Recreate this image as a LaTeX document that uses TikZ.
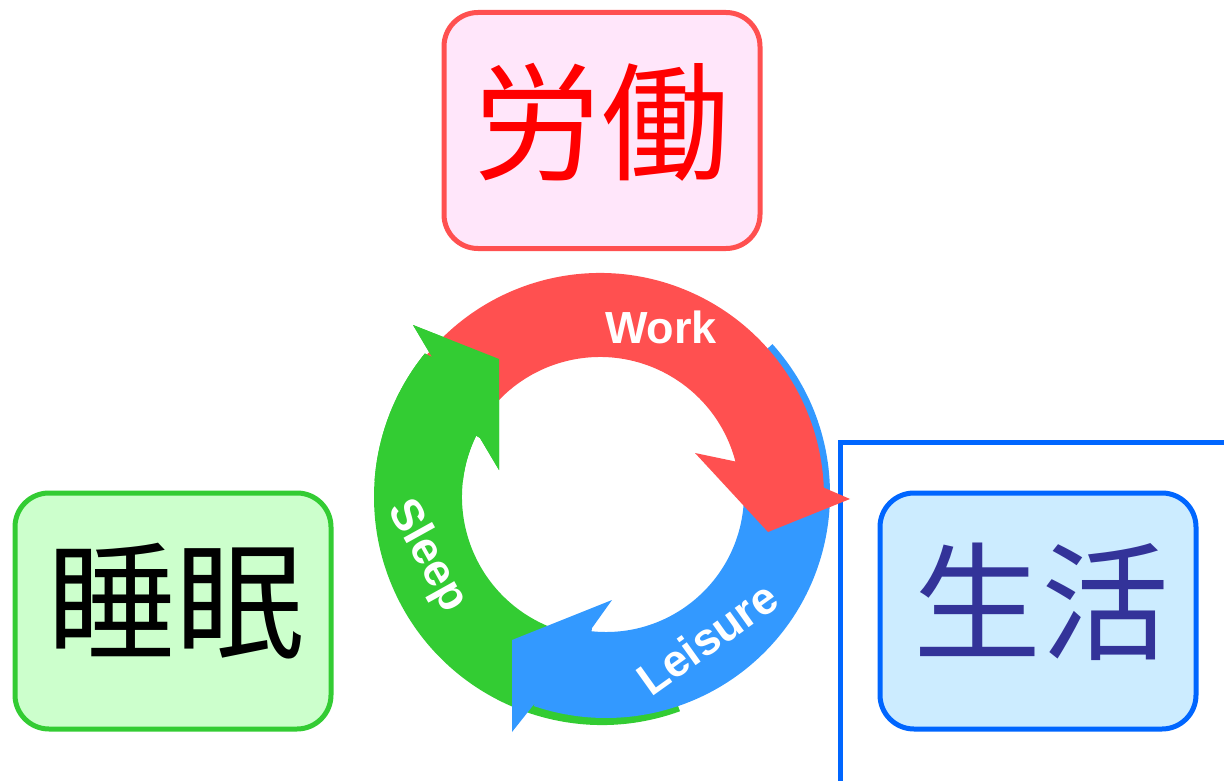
\documentclass[tikz,border=0pt]{standalone}
\usepackage{fontspec}
\setmainfont{Liberation Sans}
\newfontfamily\cjk{Noto Sans CJK JP}
\usetikzlibrary{calc}
\definecolor{redA}{RGB}{255,80,80}
\definecolor{greenA}{RGB}{51,204,51}
\definecolor{blueA}{RGB}{51,153,255}
\definecolor{pinkfill}{RGB}{255,230,250}
\definecolor{greenfill}{RGB}{204,255,204}
\definecolor{bluefill}{RGB}{204,236,255}
\definecolor{blueline}{RGB}{0,102,255}
\definecolor{navytext}{RGB}{51,51,153}
\begin{document}
\begin{tikzpicture}[x=1pt,y=-1pt,
  roundbox/.style={draw, line width=5pt, rounded corners=34pt, minimum width=316pt, minimum height=236pt, inner sep=0pt},
  cjklabel/.style={font=\cjk\fontsize{128}{128}\selectfont, anchor=base, inner sep=0pt},
  arrowlabel/.style={text=white, font=\bfseries\fontsize{45}{45}\selectfont, inner sep=0pt},
  redarrow/.style={fill=redA},
  greenarrow/.style={fill=greenA},
  bluearrow/.style={fill=blueA}]
\useasboundingbox (0,0) rectangle (1224,781);
\clip (0,0) rectangle (1224,781);

% outer blue frame
\draw[blueline, line width=5pt] (840,442) rectangle (1240,800);

% boxes
\node[roundbox, draw=redA, fill=pinkfill] (workbox) at (602,130.5) {};
\node[roundbox, draw=greenA, fill=greenfill] (sleepbox) at (173,611) {};
\node[roundbox, draw=blueline, fill=bluefill] (lifebox) at (1038,611) {};
\node[cjklabel, text=red] (worktext) at (601,171) {労働};
\node[cjklabel, text=black] (sleeptext) at (175,649) {睡眠};
\node[cjklabel, text=navytext] (lifetext) at (1041,650) {生活};

% cycle arrows
\def\greenshape{($(602,497)+(70:228)$) arc[start angle=70,end angle=219,radius=228] -- (432,357) -- (413,325) -- (499,359) -- (499,470) -- (480,438) -- ($(602,497)+(206:140)$) arc[start angle=206,end angle=70,radius=140] -- cycle}
\path[greenarrow] \greenshape;
\path[bluearrow] ($(606,494)+(318:224)$) arc[start angle=318,end angle=468.8,radius=224] -- (535,703) -- (512,732) -- (512,640) -- (612,600) -- (592,628) -- ($(606,494)+(456:138)$) arc[start angle=456,end angle=318,radius=138] -- cycle;
\path[redarrow] ($(600,497)+(205:224)$) arc[start angle=205,end angle=357.6,radius=224] -- (850,499) -- (768,532) -- (695,453) -- ($(600,497)+(345.3:140)$) arc[start angle=345.3,end angle=205,radius=140] -- cycle;
\begin{scope}
\clip (350,270) rectangle (520,480);
\path[greenarrow] \greenshape;
\end{scope}

% labels
\node[arrowlabel, anchor=base] (worklabel) at (661,343) {Work};
\node[arrowlabel, rotate=-61] (sleeplabel) at (427,556) {Sleep};
\node[arrowlabel, rotate=35.5] (leisurelabel) at (707,638) {Leisure};
\end{tikzpicture}
\end{document}
